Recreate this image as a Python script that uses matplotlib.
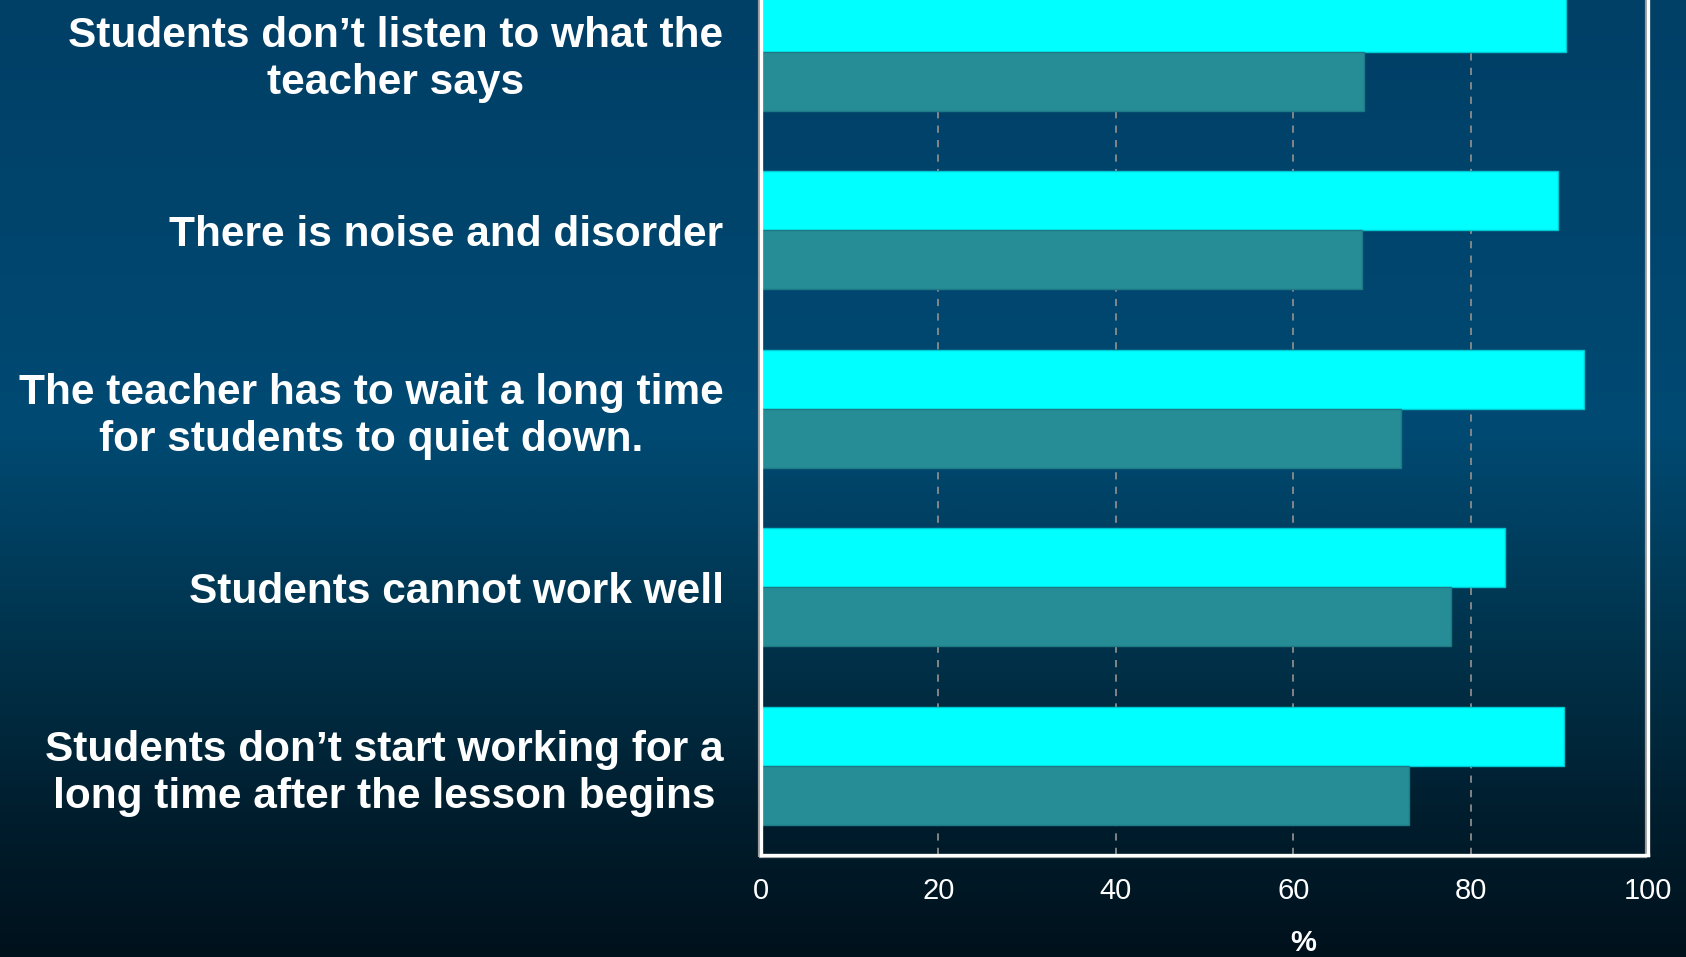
import matplotlib
matplotlib.use("Agg")
import matplotlib.pyplot as plt
import matplotlib.colors as mcolors
from matplotlib.patches import Rectangle
from matplotlib.transforms import offset_copy
import numpy as np

CATEGORIES = [
    "Students don\u2019t listen to what the\nteacher says",
    "There is noise and disorder",
    "The teacher has to wait a long time\nfor students to quiet down.",
    "Students cannot work well",
    "Students don\u2019t start working for a\nlong time after the lesson begins",
]
SERIES_A = [90.7, 89.9, 92.8, 83.9, 90.5]   # bright cyan bars
SERIES_B = [68.0, 67.8, 72.2, 77.8, 73.1]   # teal bars
X_TICKS = [0, 20, 40, 60, 80, 100]

CYAN = "#00FFFF"
TEAL = "#268C96"
GRID = "#8C8C8C"

# vertical backdrop: deep blue fading to near black
BG = mcolors.LinearSegmentedColormap.from_list(
    "backdrop",
    [(0.0, "#003F66"), (0.45, "#004A73"), (0.65, "#00354F"),
     (0.85, "#001E2E"), (1.0, "#00111C")],
)

plt.rcParams["font.family"] = ["Liberation Sans", "DejaVu Sans"]

fig = plt.figure(figsize=(16.86, 9.57), dpi=100)

bg = fig.add_axes([0, 0, 1, 1], zorder=0)
bg.imshow(np.linspace(0, 1, 512).reshape(-1, 1), cmap=BG, aspect="auto",
          extent=[0, 1, 0, 1], origin="upper")
bg.set_axis_off()

ax = fig.add_axes([0.4514, 0.1066, 0.5261, 0.9327], zorder=1)
ax.set_facecolor("none")

y = np.arange(len(CATEGORIES))
h = 0.33
ax.barh(y - h / 2, SERIES_A, height=h, color=CYAN, edgecolor="#00C8D2",
        linewidth=1.0, zorder=3)
ax.barh(y + h / 2, SERIES_B, height=h, color=TEAL, edgecolor="#1E7A84",
        linewidth=1.0, zorder=3)

ax.set_xlim(0, 100)
ax.set_ylim(len(CATEGORIES) - 0.5, -0.5)
ax.set_xticks(X_TICKS)
ax.set_xticklabels([str(t) for t in X_TICKS], fontsize=21, color="white")
ax.set_yticks(y)
ax.set_yticklabels(CATEGORIES, fontsize=30.5, fontweight="bold",
                   color="white", multialignment="center", linespacing=1.22)
ax.tick_params(axis="both", length=0)
ax.tick_params(axis="y", pad=27)
ax.tick_params(axis="x", pad=16)

for xv in X_TICKS[1:-1]:
    ax.axvline(xv, color=GRID, linestyle=(0, (4, 4)), linewidth=1.3, zorder=1)

for side in ["left", "bottom", "right"]:
    ax.spines[side].set_color("white")
    ax.spines[side].set_linewidth(2.4)
    ax.spines[side].set_zorder(5)
ax.spines["top"].set_visible(False)

# grey shadow line just outside the white frame
shadow = Rectangle((0, 0), 1, 1.2, fill=False, edgecolor="#9A9A9A",
                   linewidth=1.6, clip_on=False, zorder=4,
                   transform=offset_copy(ax.transAxes, fig, x=-2, y=-2.5,
                                         units="dots"))
ax.add_patch(shadow)

ax.set_xlabel("%", fontsize=21, fontweight="bold", color="white")
ax.xaxis.set_label_coords(0.611, -0.083)

fig.savefig("out.png", dpi=100)
